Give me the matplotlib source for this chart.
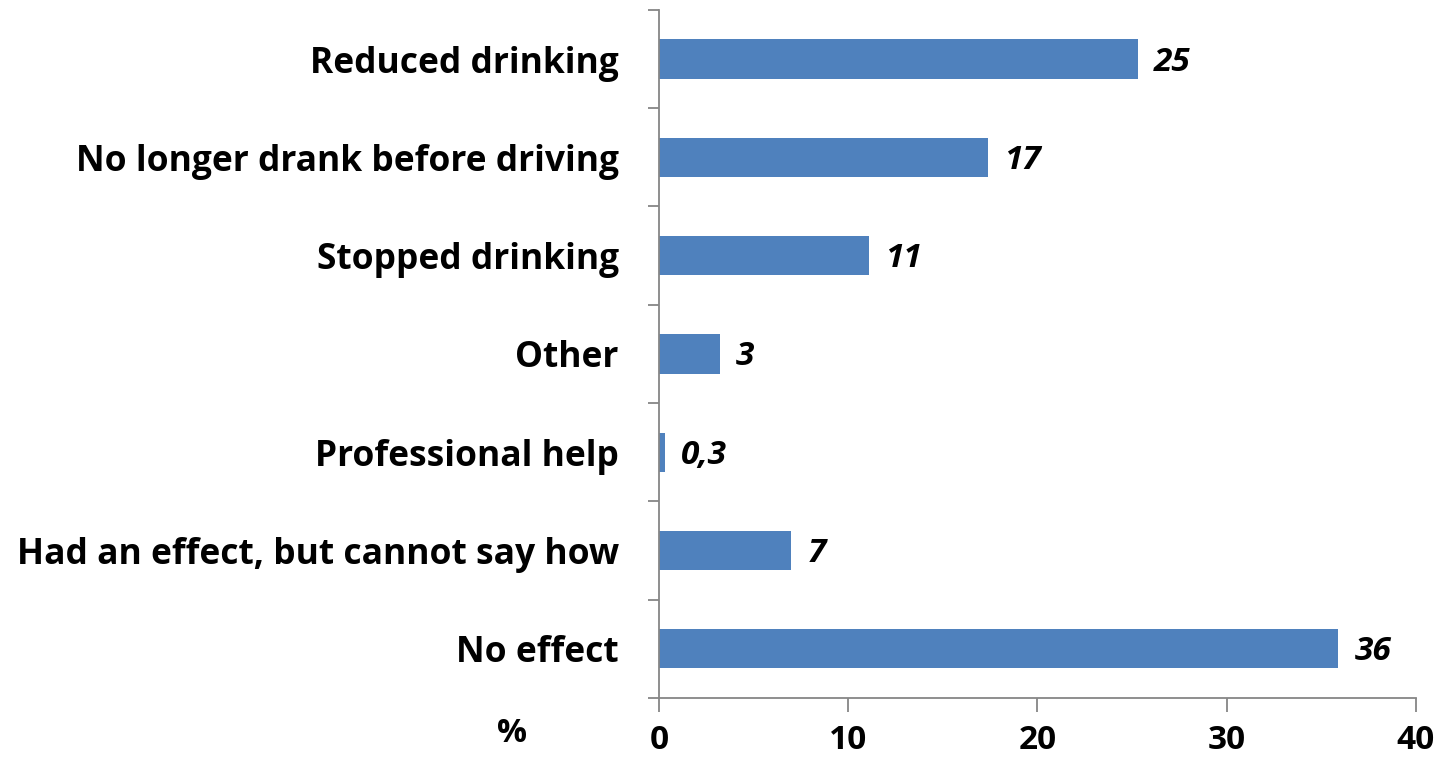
import matplotlib.pyplot as plt

plt.rcParams['font.family'] = ['Open Sans', 'DejaVu Sans']

categories = ['Reduced drinking', 'No longer drank before driving', 'Stopped drinking',
              'Other', 'Professional help', 'Had an effect, but cannot say how', 'No effect']
values = [25.3, 17.4, 11.1, 3.2, 0.3, 7.0, 35.9]
value_labels = ['25', '17', '11', '3', '0,3', '7', '36']
xticks = [0, 10, 20, 30, 40]

fig = plt.figure(figsize=(14.4, 7.58), dpi=100)
ax = fig.add_axes([0.4576, 0.0792, 0.5257, 0.9078])

n = len(categories)
ys = list(range(n - 1, -1, -1))
ax.barh(ys, values, height=0.4, color='#4F81BD')

for y, v, lab in zip(ys, values, value_labels):
    ax.annotate(lab, (v, y), xytext=(16, -3), textcoords='offset pixels',
                va='center', ha='left', fontsize=24, fontweight='bold', style='italic')

ax.set_xlim(0, 40)
ax.set_ylim(-0.5, n - 0.5)
ax.set_xticks(xticks)
ax.set_xticklabels([str(t) for t in xticks], fontsize=24, fontweight='bold')
ax.set_yticks(ys)
ax.set_yticklabels(categories, fontsize=25.5, fontweight='bold')
ax.tick_params(axis='y', length=0, pad=29)
ax.set_yticks([i - 0.5 for i in range(n + 1)], minor=True)
ax.tick_params(axis='y', which='minor', length=8, color='#868686', width=1.3, direction='out')
ax.tick_params(axis='x', length=10, color='#868686', width=1.3, direction='out', pad=9)

for side in ['top', 'right']:
    ax.spines[side].set_visible(False)
for side in ['left', 'bottom']:
    ax.spines[side].set_color('#868686')
    ax.spines[side].set_linewidth(1.3)

fig.text(512 / 1440, 1 - 733 / 758, '%', fontsize=24, fontweight='bold', ha='center', va='center')

fig.savefig('out.png', dpi=100)
